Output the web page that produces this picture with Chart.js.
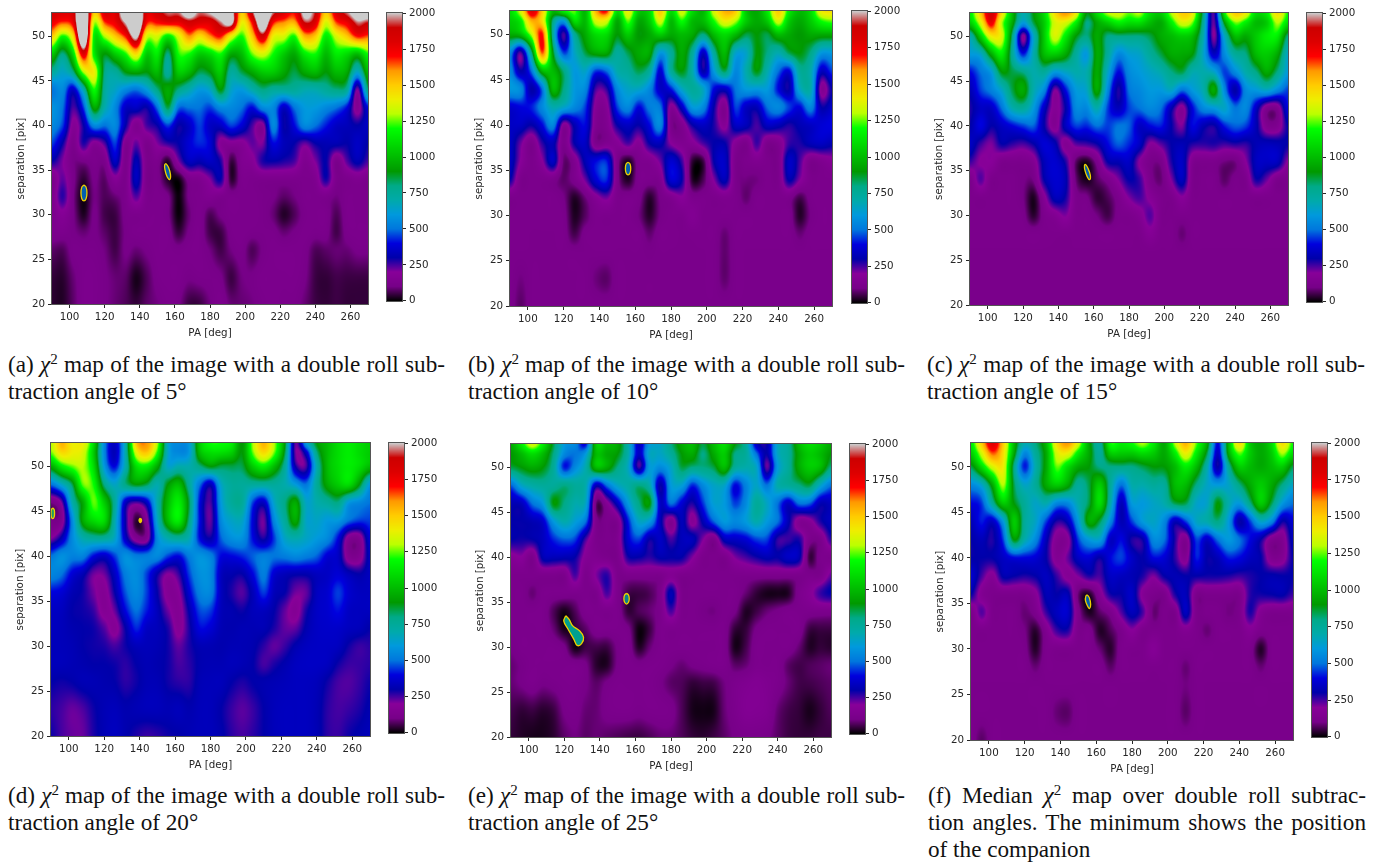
<!DOCTYPE html>
<html>
<head>
<meta charset="utf-8">
<title>chi2 maps</title>
<script src="https://cdn.jsdelivr.net/npm/chart.js@4"></script>
<style>
  html, body { margin: 0; padding: 0; background: #fff; }
  body { width: 1389px; height: 868px; position: relative; overflow: hidden; }
  canvas { position: absolute; }
  .cap { position: absolute; font: 23.2px/27px "Liberation Serif", serif; color: #111; height: 27px; }
  .cap.fit { text-align: justify; text-align-last: justify; }
  .cap.end { white-space: nowrap; }
  .cap i { font-style: italic; }
  .cap sup { font-size: 15px; line-height: 0; vertical-align: 8px; }
</style>
</head>
<body>
<script>
// --- data ---

const PA_COLS = [90,96,102,108,114,120,126,132,138,144,150,156,162,168,174,180,186,192,198,204,210,216,222,228,234,240,246,252,258,264,270];
const SEP_ROWS = [52.6,51.5,50,48,46,44,42,40,38,36,34,32,30,28,26,23,20];
const PA_TICKS = [100,120,140,160,180,200,220,240,260];
const SEP_TICKS = [20,25,30,35,40,45,50];
const BAR_TICKS = [0,250,500,750,1000,1250,1500,1750,2000];

const mapA = [
  [1850,1800,1850,2300,1500,1800,1800,2200,2300,1800,1850,1950,1950,2100,1950,2000,2100,2100,1500,1900,2300,1950,1800,1700,2050,1900,1500,1800,1950,2100,2100],
  [1750,1650,1750,2400,1300,1650,1750,2000,2300,1700,1700,1750,1750,1850,1800,1800,1950,2050,1400,1700,2200,1700,1600,1550,1900,1800,1350,1650,1750,1950,1900],
  [1500,1200,1450,2300,1150,1300,1500,1700,2050,1350,1350,1150,1350,1600,1450,1600,1700,1400,1200,1500,1850,1400,1350,1200,1550,1500,1150,1350,1500,1700,1650],
  [1050,800,1100,1800,1150,900,1050,1200,1450,1050,1150,800,1200,1200,1050,1100,1200,950,1000,1250,1350,1200,1050,950,1150,1200,1000,1150,1100,1000,1200],
  [750,650,800,1300,1400,800,750,900,950,900,1000,750,1050,1000,850,900,1050,750,850,950,1050,1050,950,850,950,1000,900,1000,950,650,1000],
  [500,550,350,700,1200,750,650,550,500,600,800,950,800,700,600,650,900,650,600,700,800,750,750,750,700,700,750,800,750,210,800],
  [580,500,250,450,950,700,550,350,350,300,500,850,500,500,500,450,550,550,500,400,550,550,350,500,600,600,550,500,400,160,400],
  [550,450,175,300,550,500,550,300,145,250,300,450,300,350,450,350,350,450,380,250,175,550,300,400,550,500,420,350,330,300,350],
  [450,300,125,280,175,250,450,145,230,125,210,270,300,380,430,380,175,175,175,230,210,400,330,300,230,300,320,320,300,350,300],
  [300,210,105,105,125,125,350,125,320,125,125,35,210,340,320,350,280,50,145,175,280,300,280,250,145,210,300,125,240,320,250],
  [125,230,115,40,105,75,175,125,340,115,115,30,15,125,145,210,300,40,125,125,125,125,125,125,125,145,290,125,125,145,125],
  [125,270,105,12,95,65,85,125,240,125,125,105,8,105,125,145,125,125,125,125,115,105,75,95,125,125,125,95,125,125,125],
  [125,175,105,25,105,55,50,115,125,125,125,105,8,85,125,65,105,125,125,125,115,85,30,65,115,125,125,65,125,125,125],
  [125,125,105,85,105,75,50,105,125,125,125,125,45,105,125,55,50,115,125,115,115,115,85,105,125,115,115,55,115,125,125],
  [75,65,115,115,115,95,55,105,85,105,125,125,115,125,125,95,55,95,115,65,105,125,125,125,115,65,75,85,85,105,105],
  [42,35,85,125,125,105,85,75,20,65,115,125,125,105,115,115,105,50,95,105,125,125,125,125,105,50,42,55,50,50,50],
  [35,28,75,125,125,105,85,65,42,75,95,115,105,50,50,95,125,85,85,95,115,125,115,115,85,50,42,50,42,42,42]
];

const mapB = [
  [1100,1350,1800,1500,1000,1150,1250,1000,1550,1700,1100,1400,1050,1100,1500,1100,1350,1100,1000,1350,1550,1500,1050,950,1150,1500,1150,1000,1100,1400,1450],
  [1050,1150,1550,1450,800,600,1100,1000,1350,1350,950,1250,950,1050,1350,1000,1200,1000,1000,1200,1400,1300,1050,950,1050,1350,1050,950,1050,1200,1250],
  [950,1000,1300,1700,750,250,750,950,1100,1100,900,1050,900,950,1050,950,1000,950,800,1000,1100,1000,850,900,850,1000,950,900,950,950,950],
  [550,250,800,1650,900,450,650,850,950,950,750,850,950,950,600,750,950,750,350,750,1000,650,650,900,800,700,850,900,800,600,600],
  [550,300,500,1000,1000,800,600,650,450,500,700,750,850,750,380,750,900,700,300,600,850,550,700,900,700,500,400,750,700,350,450],
  [600,550,300,500,1000,800,600,550,250,270,550,650,650,550,350,420,650,750,650,400,350,500,600,600,600,400,300,650,700,175,300],
  [370,400,420,550,700,650,550,450,175,175,450,550,400,520,500,175,350,600,550,300,145,450,350,330,500,550,450,400,550,300,350],
  [350,350,300,400,550,175,320,400,145,145,300,350,300,400,550,125,145,300,350,280,175,350,330,250,350,330,280,320,350,380,400],
  [350,225,125,270,330,125,300,350,125,145,175,250,175,300,330,195,145,175,250,300,300,175,125,260,125,145,260,280,330,350,320],
  [350,195,125,195,350,85,145,320,400,420,125,25,125,145,225,370,260,40,50,300,350,125,125,145,125,125,350,250,125,145,175],
  [300,125,125,125,125,75,125,225,380,430,125,25,125,125,145,380,300,30,60,210,330,125,95,95,125,125,310,210,125,125,125],
  [125,125,125,125,125,100,30,90,175,225,125,125,115,35,105,145,195,125,125,125,145,125,80,125,125,125,125,60,115,125,125],
  [125,125,125,125,125,115,25,70,125,125,125,125,95,30,100,125,125,160,125,125,125,125,125,125,125,125,125,30,100,125,125],
  [125,125,120,120,120,120,55,115,125,125,125,125,125,80,125,125,120,125,125,125,85,125,125,125,125,125,125,85,120,125,125],
  [120,120,120,120,120,120,115,115,120,120,120,120,120,110,120,120,120,120,120,120,80,120,120,120,120,120,120,115,120,120,120],
  [120,95,120,120,120,120,120,120,90,75,120,120,120,120,120,120,120,120,120,120,80,120,120,120,120,120,120,120,120,120,120],
  [120,75,120,120,120,120,120,120,120,120,120,120,120,120,120,120,120,120,120,120,120,120,120,120,120,120,120,120,120,120,120]
];

const mapC = [
  [1150,1500,1850,1450,1000,700,900,1100,1450,1600,1400,900,1100,1300,1350,1250,1300,1100,1050,1300,1500,1400,800,250,1150,1500,1400,1100,1150,1450,1200],
  [1050,1350,1750,1300,950,600,850,1050,1350,1350,1150,800,950,1050,1150,1100,1100,1000,950,1150,1350,1250,750,230,900,1250,1150,1000,1050,1300,1100],
  [700,1050,1400,1350,800,190,650,1050,1350,1150,900,800,950,800,800,800,800,850,950,1000,1050,1000,700,200,650,1000,950,1050,1150,1150,800],
  [600,650,950,1150,750,420,700,1000,1050,950,750,600,950,750,550,620,650,750,850,950,950,900,650,350,550,750,800,1000,1050,950,650],
  [400,500,600,900,850,800,700,750,600,650,700,700,950,650,400,550,600,650,700,800,850,700,700,650,450,550,700,800,950,800,600],
  [320,450,530,650,850,950,700,550,210,400,600,650,950,550,280,500,550,600,600,650,500,600,700,950,550,300,550,600,650,550,450],
  [280,350,350,500,700,750,600,350,175,300,550,550,700,450,330,450,500,550,500,320,175,400,550,600,650,500,550,350,145,145,400],
  [300,400,300,350,400,450,480,300,160,340,450,430,500,450,500,480,350,400,420,300,210,400,320,290,420,480,450,320,145,145,300],
  [350,260,210,300,270,250,300,380,320,160,240,260,300,400,480,430,350,195,240,300,320,280,270,280,260,280,270,320,330,320,300],
  [260,195,195,125,125,125,160,330,370,280,75,25,125,300,320,350,195,115,115,280,350,145,125,125,95,95,195,340,350,340,195],
  [125,240,125,125,125,105,105,300,370,320,85,20,70,125,210,300,260,125,85,210,340,125,125,125,75,115,125,290,225,125,125],
  [125,125,125,125,125,100,25,175,330,290,125,105,40,65,125,210,250,180,125,125,195,125,125,125,125,125,125,125,125,125,125],
  [125,125,125,125,125,115,35,125,160,210,125,125,95,55,115,125,160,240,125,120,125,125,125,125,125,125,125,125,125,125,125],
  [125,125,125,125,125,125,125,125,125,125,125,125,125,125,125,125,125,175,125,125,85,125,125,125,125,125,125,125,125,125,125],
  [120,120,120,120,120,120,120,120,120,120,120,120,120,120,120,120,120,120,120,120,115,120,120,120,120,120,120,120,120,120,120],
  [120,120,120,120,120,120,120,120,120,115,120,120,120,120,120,120,120,120,120,120,120,120,120,120,120,120,120,115,120,120,120],
  [120,120,120,120,120,120,120,120,120,120,120,120,120,120,120,120,120,120,120,120,120,120,120,120,120,120,120,120,120,120,120]
];

const mapD = [
  [1300,1550,1400,1400,1100,550,350,700,1500,1600,1300,650,550,600,1050,1200,1200,1150,900,1300,1550,1300,900,230,600,900,1000,1100,1150,1100,1050],
  [1250,1450,1400,1350,1050,550,330,700,1350,1500,1200,650,550,600,1000,1100,1100,1050,900,1250,1450,1250,850,220,350,800,1000,1100,1150,1100,1050],
  [950,1150,1250,1300,1100,600,400,700,1100,1150,950,650,700,700,800,900,850,850,850,1050,1150,1000,750,300,250,700,1000,1100,1150,1100,1000],
  [500,650,850,1250,1200,800,650,800,900,850,700,900,1000,750,500,330,650,750,750,750,750,750,700,600,500,750,950,1050,1100,900,600],
  [100,220,700,950,1250,1050,750,350,250,350,700,1000,1150,850,400,250,600,750,750,450,350,650,800,950,650,700,750,800,600,550,500],
  [100,150,550,950,1100,1100,700,300,40,170,650,1000,1150,800,400,230,550,650,650,380,220,550,750,950,650,650,600,600,500,450,450],
  [200,320,550,700,750,750,650,350,150,150,550,700,750,680,400,300,480,570,570,400,280,450,650,700,650,600,550,400,160,150,380],
  [500,570,530,530,400,350,450,570,520,520,550,450,400,520,580,530,400,400,430,480,520,500,520,550,520,480,380,350,150,150,340],
  [540,500,380,320,220,220,350,520,560,450,300,200,260,450,570,550,340,310,300,400,520,370,330,310,310,340,350,380,330,300,340],
  [400,380,320,290,220,170,300,470,550,450,300,170,190,380,530,540,340,280,240,330,450,330,300,220,230,340,370,450,370,340,340],
  [350,340,300,290,260,170,230,400,500,420,330,220,165,310,460,450,330,310,290,330,340,300,230,170,280,350,370,410,350,340,340],
  [340,330,310,300,290,240,175,300,430,350,330,280,175,280,400,380,320,310,320,320,320,280,230,230,310,350,360,360,340,330,300],
  [330,330,320,300,290,280,250,290,330,330,320,290,230,280,320,320,310,320,320,310,270,230,260,310,340,350,350,340,290,260,270],
  [330,330,320,310,300,300,290,270,300,320,310,290,250,270,310,320,320,330,320,300,250,280,310,340,350,350,340,290,260,260,270],
  [300,290,300,320,320,310,300,270,290,320,320,290,270,270,320,330,330,300,280,300,310,320,330,340,340,330,290,250,240,260,290],
  [270,250,225,245,290,320,330,310,320,330,330,320,330,310,330,330,300,260,235,260,300,330,340,340,340,320,270,250,260,280,310],
  [290,250,225,225,280,320,340,310,280,260,270,290,300,320,330,330,310,270,250,270,300,330,340,340,340,320,270,260,290,310,330]
];

const mapE = [
  [950,1150,1350,1150,850,600,550,400,1050,1000,950,700,350,600,650,800,950,1000,850,1000,1100,900,750,350,300,650,750,1000,1100,1050,950],
  [900,1000,1100,1000,800,550,500,600,1000,950,900,700,350,650,650,750,900,950,800,950,1050,800,750,500,300,650,750,950,1050,1000,900],
  [850,900,950,900,750,420,550,700,1000,950,800,650,260,600,550,650,850,800,800,850,1000,750,700,650,230,600,750,950,1050,1000,800],
  [480,650,720,750,750,800,750,700,330,500,650,720,800,700,300,600,620,430,550,650,650,400,530,650,500,700,750,800,850,650,500],
  [320,340,500,600,900,800,700,650,85,175,350,600,800,900,350,500,380,280,440,620,600,450,550,750,650,500,350,500,480,320,340],
  [300,300,320,370,600,700,620,500,125,125,145,420,650,600,330,145,330,175,320,480,600,550,600,700,600,500,320,160,175,280,340],
  [300,290,300,340,430,480,450,250,125,125,145,380,450,300,350,250,330,330,210,125,330,350,380,450,450,270,260,280,125,125,270],
  [175,195,125,320,330,320,300,175,145,125,125,290,300,270,310,300,300,210,125,125,125,210,250,290,320,300,350,320,50,125,125],
  [125,125,125,125,125,125,250,125,210,270,125,125,125,125,125,160,125,125,125,125,125,125,125,125,125,125,125,125,125,125,225],
  [125,125,85,125,125,125,125,125,125,250,125,55,50,65,125,320,125,125,125,125,125,125,85,42,20,20,28,125,175,260,300],
  [125,125,125,125,65,20,65,125,125,125,125,42,65,85,125,250,125,125,105,95,125,105,28,50,85,105,125,125,125,125,125],
  [125,125,125,125,85,20,42,75,125,125,125,105,12,50,125,125,125,125,125,125,125,42,42,105,125,125,125,125,50,50,50],
  [105,125,125,125,125,105,15,50,55,50,105,125,28,85,125,125,125,125,125,125,125,20,55,125,125,125,125,85,28,42,35],
  [85,105,125,125,125,125,125,105,35,28,105,125,115,125,125,105,85,105,115,125,125,75,85,125,125,125,75,55,65,75,85],
  [85,105,125,105,115,125,125,105,75,105,125,125,125,125,105,75,65,42,50,55,95,125,145,160,145,125,85,55,55,65,75],
  [55,42,50,35,50,105,115,85,85,115,125,125,115,125,125,115,65,20,15,20,85,125,160,160,145,85,55,42,20,42,65],
  [42,28,20,20,35,75,95,75,85,75,65,55,50,65,85,85,65,42,35,50,75,105,115,115,105,75,50,42,42,50,50]
];

const mapF = [
  [1150,1500,1800,1500,1000,700,800,1000,1450,1600,1350,950,750,1200,1150,1200,1300,1150,950,1300,1550,1250,950,400,1000,1450,1050,950,1100,1450,1200],
  [1050,1350,1650,1450,950,550,750,950,1350,1400,1150,950,750,1050,1050,1050,1100,1050,950,1150,1400,1150,850,350,950,1250,1050,950,1050,1300,1100],
  [850,1100,1350,1400,800,420,700,950,1250,1100,950,900,800,800,800,800,850,900,900,1000,1150,1000,700,300,750,1050,1000,950,1000,1050,850],
  [550,650,950,1300,850,650,750,950,1050,950,750,850,1050,750,500,700,700,750,750,1000,1000,800,650,600,650,800,950,1050,950,800,650],
  [400,450,750,1050,900,750,650,700,550,550,700,850,1100,700,330,600,600,650,700,850,850,650,650,900,700,600,800,1050,850,600,500],
  [330,420,350,600,1050,750,650,450,280,330,600,950,850,550,320,450,600,650,550,330,450,650,700,800,600,300,450,650,550,300,380],
  [300,330,280,450,900,700,550,330,160,175,450,600,620,350,400,280,300,550,500,280,145,450,350,500,600,500,400,300,145,145,330],
  [300,300,300,350,400,400,380,300,160,225,350,380,300,400,450,350,300,400,380,270,160,420,300,330,420,400,340,300,145,160,300],
  [370,250,175,310,300,280,300,340,260,175,210,280,250,350,340,320,280,210,300,320,300,300,290,290,280,260,280,300,310,300,300],
  [300,160,125,125,125,125,175,320,300,320,85,30,160,290,300,350,175,125,125,280,330,125,125,125,125,125,270,290,300,310,260],
  [125,240,125,125,125,85,125,260,340,360,125,25,75,125,240,330,250,85,125,125,340,125,125,125,95,125,280,160,125,125,125],
  [125,125,125,125,125,100,35,145,260,280,125,125,30,65,125,195,125,125,125,125,160,125,85,125,125,125,175,125,125,125,125],
  [125,125,125,125,125,115,30,125,125,125,125,125,85,35,125,125,125,175,125,125,125,125,125,125,125,125,125,30,125,125,125],
  [125,125,125,125,125,125,85,125,125,125,125,125,125,75,125,125,125,125,125,125,85,125,125,125,125,125,125,85,125,125,125],
  [120,120,120,120,120,120,120,120,120,120,120,120,120,120,120,120,120,120,120,120,95,120,120,120,120,120,120,120,120,120,120],
  [120,120,120,120,120,120,120,120,85,75,120,120,120,120,120,120,120,120,120,120,75,120,120,120,120,120,120,120,120,120,120],
  [120,75,120,120,120,120,120,120,120,120,120,120,120,120,120,120,120,120,120,120,120,120,120,120,120,120,120,120,120,120,120]
];

// yellow contour outlines, [PA, separation]
const contoursA = [
  [[108.2,33.35],[109.4,33.1],[109.9,32.45],[109.4,31.8],[108.2,31.55],[107,31.8],[106.5,32.45],[107,33.1],[108.2,33.35]],
  [[154.9,35.75],[156.4,35.3],[157.5,34.5],[157,33.95],[155.5,34.3],[154.3,35.1],[154.2,35.6],[154.9,35.75]]
];
const contoursB = [
  [[156,35.9],[157.1,35.7],[157.5,35.2],[157.1,34.7],[156,34.5],[154.9,34.7],[154.5,35.2],[154.9,35.7],[156,35.9]]
];
const contoursC = [
  [[155.3,35.75],[156.7,35.3],[158.1,34.5],[157.7,34],[156.2,34.4],[155,35.1],[154.8,35.6],[155.3,35.75]]
];
const contoursD = [
  [[91,45.4],[91.8,45.2],[92,44.8],[91.8,44.4],[91,44.2],[90.2,44.4],[90,44.8],[90.2,45.2],[91,45.4]],
  [[140.4,44.25],[140.9,44.15],[141.1,44],[140.9,43.85],[140.4,43.75],[139.9,43.85],[139.7,44],[139.9,44.15],[140.4,44.25]]
];
const contoursE = [
  [[120.8,33.5],[122.7,33.1],[124.6,32.4],[128.7,31.8],[130.8,31.1],[129.7,30.4],[127.2,30.2],[125.3,30.9],[122.1,32],[119.7,32.9],[120.8,33.5]],
  [[155,36],[156.1,35.8],[156.5,35.4],[156.1,35],[155,34.8],[153.9,35],[153.5,35.4],[153.9,35.8],[155,36]],
  [[127.6,31.3],[128.2,31.1],[128.2,30.7],[127.6,30.6],[127,30.8],[127,31.1],[127.6,31.3]]
];
const contoursF = [
  [[155,35.95],[156.2,35.6],[156.9,34.9],[156.3,34.45],[155.2,34.7],[154,35.3],[154.2,35.8],[155,35.95]]
];

// nipy_spectral stops
const CMAP_R = [0,.4667,.5333,0,0,0,0,0,0,0,0,0,0,.7333,.9333,1,1,1,.8667,.8,.8];
const CMAP_G = [0,0,0,0,0,.4667,.6,.6667,.6667,.6,.7333,.8667,1,1,.9333,.8,.6,0,0,0,.8];
const CMAP_B = [0,.5333,.6,.6667,.8667,.8667,.8667,.6667,.5333,0,0,0,0,0,0,0,0,0,0,0,.8];

// --- drawing ---

const INK = '#262626';
const FONT = { family: '"DejaVu Sans"', size: 10.3 };
Chart.defaults.animation = false;

function colorAt(value) {
    const t = Math.max(0, Math.min(1, value / 2000)) * 20;
    const i = Math.min(19, Math.floor(t));
    const f = t - i;
    return [CMAP_R, CMAP_G, CMAP_B].map(c => Math.round(255 * (c[i] + (c[i + 1] - c[i]) * f)));
}

function catmull(a, b, c, d, t) {
    return b + 0.5 * t * (c - a + t * (2 * a - 5 * b + 4 * c - d + t * (3 * (b - c) + d - a)));
}

function fracIndex(list, v) {
    for (let i = 0; i < list.length - 1; i++) {
        const lo = Math.min(list[i], list[i + 1]);
        const hi = Math.max(list[i], list[i + 1]);
        if (v >= lo && v <= hi) return i + (v - list[i]) / (list[i + 1] - list[i]);
    }
    return v <= Math.min(list[0], list[list.length - 1]) ? (list[0] < list[1] ? 0 : list.length - 1) : (list[0] < list[1] ? list.length - 1 : 0);
}

function sampleMap(rows, pa, sep) {
    const fx = fracIndex(PA_COLS, pa);
    const fy = fracIndex(SEP_ROWS, sep);
    const ix = Math.min(PA_COLS.length - 2, Math.floor(fx));
    const iy = Math.min(SEP_ROWS.length - 2, Math.floor(fy));
    const col = i => Math.max(0, Math.min(PA_COLS.length - 1, i));
    const row = i => Math.max(0, Math.min(SEP_ROWS.length - 1, i));
    const across = [];
    for (let j = -1; j <= 2; j++) {
        const r = rows[row(iy + j)];
        across.push(catmull(r[col(ix - 1)], r[col(ix)], r[col(ix + 1)], r[col(ix + 2)], fx - ix));
    }
    return catmull(across[0], across[1], across[2], across[3], fy - iy);
}

const heatmapCells = {
    id: 'heatmapCells',
    beforeDatasetsDraw(chart, args, opts) {
        const { ctx, chartArea: a, scales: { x, y } } = chart;
        const w = Math.round(a.right - a.left);
        const h = Math.round(a.bottom - a.top);
        const img = ctx.createImageData(w, h);
        for (let py = 0; py < h; py++) {
            const sep = y.getValueForPixel(a.top + py + 0.5);
            for (let px = 0; px < w; px++) {
                const pa = x.getValueForPixel(a.left + px + 0.5);
                const c = colorAt(sampleMap(opts.rows, pa, sep));
                const k = (py * w + px) * 4;
                img.data[k] = c[0]; img.data[k + 1] = c[1]; img.data[k + 2] = c[2]; img.data[k + 3] = 255;
            }
        }
        ctx.putImageData(img, Math.round(a.left), Math.round(a.top));
    }
};

const colorStrip = {
    id: 'colorStrip',
    beforeDatasetsDraw(chart) {
        const { ctx, chartArea: a, scales: { y } } = chart;
        for (let py = Math.round(a.top); py < Math.round(a.bottom); py++) {
            ctx.fillStyle = 'rgb(' + colorAt(y.getValueForPixel(py + 0.5)).join(',') + ')';
            ctx.fillRect(a.left, py, a.right - a.left, 1);
        }
    }
};

const plotFrame = {
    id: 'plotFrame',
    afterDraw(chart) {
        const { ctx, chartArea: a } = chart;
        ctx.save();
        ctx.strokeStyle = '#555';
        ctx.lineWidth = 1;
        ctx.strokeRect(Math.round(a.left) - 0.5, Math.round(a.top) - 0.5, Math.round(a.right - a.left) + 1, Math.round(a.bottom - a.top) + 1);
        ctx.restore();
    }
};

function tickAxis(ticks, extra) {
    return Object.assign({
        grid: { drawOnChartArea: false, color: INK, tickLength: 4, lineWidth: 1 },
        border: { display: false },
        afterBuildTicks: s => { s.ticks = ticks.map(v => ({ value: v })); },
        ticks: { color: INK, font: FONT, padding: 3, maxRotation: 0, autoSkip: false, callback: v => String(v) }
    }, extra);
}

function addCanvas(left, top, width, height) {
    const cv = document.createElement('canvas');
    cv.width = width;
    cv.height = height;
    cv.style.left = left + 'px';
    cv.style.top = top + 'px';
    cv.style.width = width + 'px';
    cv.style.height = height + 'px';
    document.body.appendChild(cv);
    return cv.getContext('2d');
}

function drawMap(p) {
    const w = p.r - p.l, h = p.b - p.t;
    const ctx = addCanvas(p.l - 37, p.t - 6, w + 43, h + 6 + 36);
    new Chart(ctx, {
        type: 'scatter',
        data: {
            datasets: p.contours.map((c, i) => ({
                data: c.map(q => ({ x: q[0], y: q[1] })),
                showLine: true,
                tension: 0.4,
                pointRadius: 0,
                borderColor: p.edge[i],
                borderWidth: 1.3,
                fill: 'shape',
                backgroundColor: p.inner[i]
            }))
        },
        options: {
            responsive: false,
            layout: { padding: { top: 6, right: 6, left: 0, bottom: 0 } },
            plugins: { legend: { display: false }, tooltip: { enabled: false }, heatmapCells: { rows: p.rows } },
            scales: {
                x: tickAxis(PA_TICKS, {
                    type: 'linear', min: 90, max: 270,
                    title: { display: true, text: 'PA [deg]', color: INK, font: FONT, padding: 0 },
                    afterFit: s => { s.height = 36; }
                }),
                y: tickAxis(SEP_TICKS, {
                    type: 'linear', min: 20, max: 52.6,
                    title: { display: true, text: 'separation [pix]', color: INK, font: FONT, padding: 0 },
                    afterFit: s => { s.width = 37; }
                })
            }
        },
        plugins: [heatmapCells, plotFrame]
    });
}

function drawBar(p) {
    const h = p.b - p.t;
    const ctx = addCanvas(p.cb - 1, p.t - 6, 15 + 1 + 42, h + 12);
    new Chart(ctx, {
        type: 'scatter',
        data: { datasets: [{ data: [] }] },
        options: {
            responsive: false,
            layout: { padding: { top: 6, bottom: 6, left: 1, right: 0 } },
            plugins: { legend: { display: false }, tooltip: { enabled: false } },
            scales: {
                x: { display: false, min: 0, max: 1 },
                y: tickAxis(BAR_TICKS, {
                    type: 'linear', position: 'right', min: 0, max: 2000,
                    afterFit: s => { s.width = 42; }
                })
            }
        },
        plugins: [colorStrip, plotFrame]
    });
}

const YEL = '#eed000';
const PANELS = [
  { rows: mapA, contours: contoursA, edge: [YEL, YEL], inner: ['#0060b0', '#0060b0'], l: 52, r: 368, t: 10, b: 304, cb: 387 },
  { rows: mapB, contours: contoursB, edge: [YEL], inner: ['#0060b0'], l: 510, r: 832, t: 8, b: 306, cb: 852 },
  { rows: mapC, contours: contoursC, edge: [YEL], inner: ['#0060b0'], l: 970, r: 1288, t: 10, b: 305, cb: 1307 },
  { rows: mapD, contours: contoursD, edge: [YEL, YEL], inner: ['#20a060', YEL], l: 51, r: 370, t: 440, b: 736, cb: 389 },
  { rows: mapE, contours: contoursE, edge: [YEL, YEL, '#0a3a70'], inner: ['#00a090', '#0a8090', '#0a1a40'], l: 511, r: 831, t: 441, b: 737, cb: 850 },
  { rows: mapF, contours: contoursF, edge: [YEL], inner: ['#0060b0'], l: 971, r: 1293, t: 440, b: 740, cb: 1312 }
];

PANELS.forEach(p => { drawMap(p); drawBar(p); });

// --- captions ---

const chi = '<i>&chi;</i><sup>2</sup>';
const CAPTIONS = [
  { l: 8, w: 437, base: 372, lines: ['(a) ' + chi + ' map of the image with a double roll sub-', 'traction angle of 5&deg;'] },
  { l: 468, w: 437, base: 372, lines: ['(b) ' + chi + ' map of the image with a double roll sub-', 'traction angle of 10&deg;'] },
  { l: 927, w: 438, base: 372, lines: ['(c) ' + chi + ' map of the image with a double roll sub-', 'traction angle of 15&deg;'] },
  { l: 8, w: 437, base: 803, lines: ['(d) ' + chi + ' map of the image with a double roll sub-', 'traction angle of 20&deg;'] },
  { l: 468, w: 437, base: 803, lines: ['(e) ' + chi + ' map of the image with a double roll sub-', 'traction angle of 25&deg;'] },
  { l: 928, w: 438, base: 803, lines: ['(f) Median ' + chi + ' map over double roll subtrac-', 'tion angles. The minimum shows the position', 'of the companion'] }
];

CAPTIONS.forEach(c => {
    c.lines.forEach((txt, i) => {
        const d = document.createElement('div');
        const last = i === c.lines.length - 1;
        d.className = 'cap ' + (last ? 'end' : 'fit');
        d.style.left = c.l + 'px';
        d.style.width = c.w + 'px';
        d.style.top = (c.base - 21 + i * 27) + 'px';
        d.innerHTML = txt;
        document.body.appendChild(d);
    });
});
</script>
</body>
</html>
